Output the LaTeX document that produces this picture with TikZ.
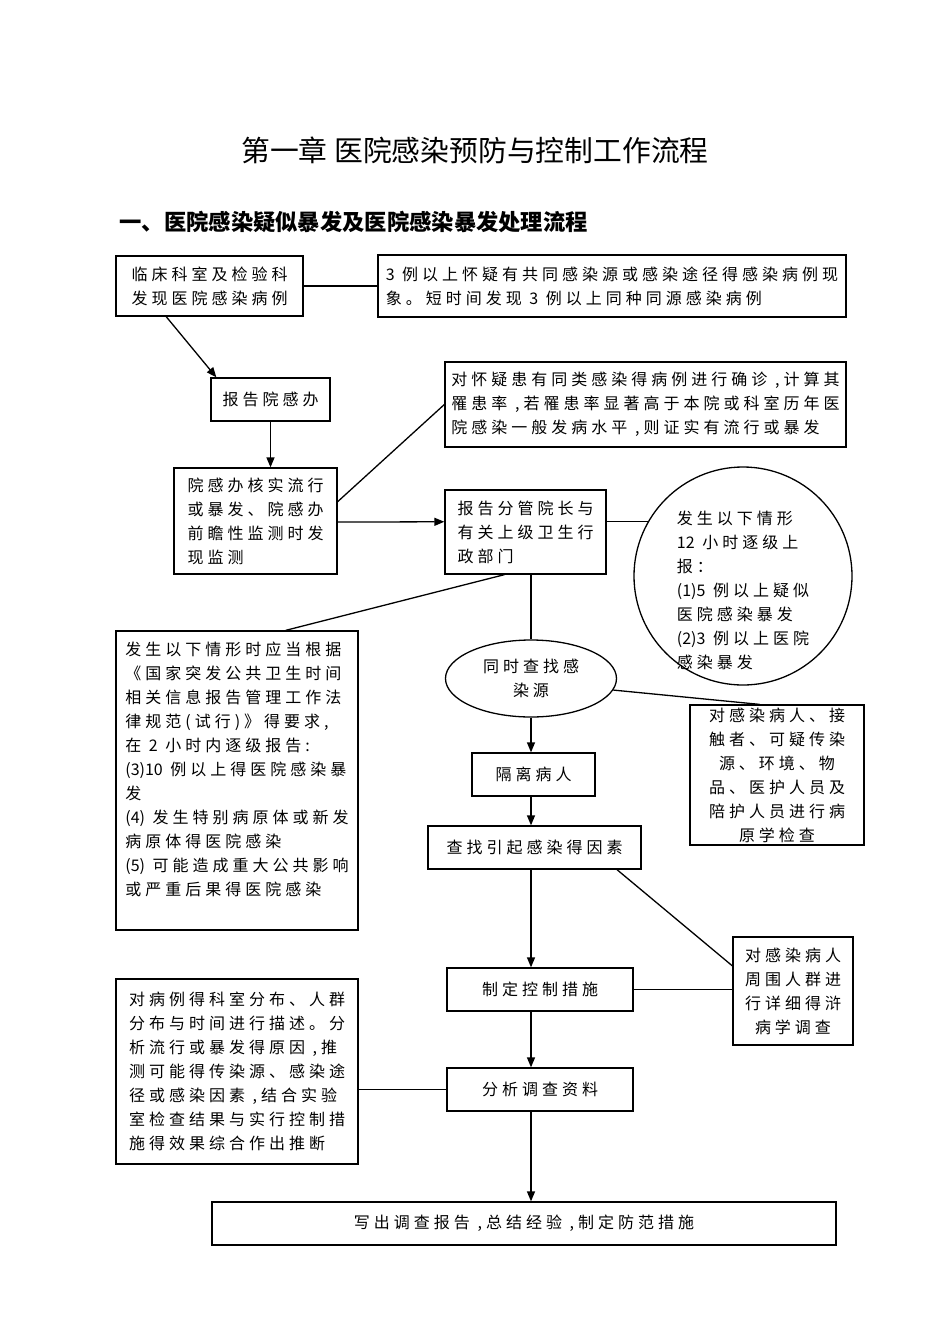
\documentclass[tikz,border=0pt]{standalone}
\usepackage{fontspec}
\usepackage{tikz}
\usetikzlibrary{arrows.meta}
\usetikzlibrary{calc}
\usetikzlibrary{shapes.geometric}
\newfontfamily\cjk{Noto Sans CJK SC}
\newfontfamily\cjkbox{Noto Sans CJK SC}[LetterSpace=25]
\newcommand\nls[1]{{\cjk #1}}
\tikzset{ln/.style = {line width=1.3pt}}
\tikzset{box/.style = {draw, ln, inner sep=0, align=left, font={\cjkbox\fontsize{16}{24}\selectfont}}}
\tikzset{cbox/.style = {box, align=center}}
\tikzset{arr/.style = {ln, -{Triangle[length=10pt,width=8pt]}}}

\begin{document}
\begin{tikzpicture}[x=1pt, y=-1pt]
    \useasboundingbox (0,0) rectangle (950,1344);

    \node [font={\cjk\fontsize{28.8}{32}\selectfont}] (title) at (475,150) {第一章 医院感染预防与控制工作流程};
    \node [anchor=west, font={\cjk\bfseries\fontsize{22.3}{26}\selectfont}] (head) at (116,222) {一、医院感染疑似暴发及医院感染暴发处理流程};

    \node [box, minimum width=187pt, minimum height=60pt] (lc) at (209.5,286) {临床科室及检验科\\发现医院感染病例};
    \node [box, minimum width=468pt, minimum height=62pt] (xx) at (612,286) {\nls{3} 例以上怀疑有共同感染源或感染途径得感染病例现\\象。短时间发现 \nls{3} 例以上同种同源感染病例};
    \node [cbox, minimum width=119pt, minimum height=43pt] (bg) at (270.5,399.5) {报告院感办};
    \node [box, minimum width=163pt, minimum height=106pt] (hs) at (255.5,521) {院感办核实流行\\或暴发、院感办\\前瞻性监测时发\\现监测};
    \node [box, minimum width=401pt, minimum height=85pt] (qz) at (645.5,404.5) {对怀疑患有同类感染得病例进行确诊 ,计算其\\罹患率 ,若罹患率显著高于本院或科室历年医\\院感染一般发病水平 ,则证实有流行或暴发};
    \node [box, minimum width=161pt, minimum height=84pt] (fg) at (525.5,532) {报告分管院长与\\有关上级卫生行\\政部门};

    \node [draw, ln, circle, minimum size=218pt, inner sep=0] (qx) at (743,576) {};
    \node [align=left, inner sep=0, font={\cjkbox\fontsize{16}{24}\selectfont}] (qxt) at (743,590) {发生以下情形\\\nls{12} 小时逐级上\\报：\\\nls{(1)5} 例以上疑似\\医院感染暴发\\\nls{(2)3} 例以上医院\\感染暴发};

    \node [box, minimum width=242pt, minimum height=299pt] (gj) at (237,780.5) {发生以下情形时应当根据\\《国家突发公共卫生时间\\相关信息报告管理工作法\\律规范(试行)》得要求,\\在 \nls{2} 小时内逐级报告:\\\nls{(3)10} 例以上得医院感染暴\\发\\\nls{(4)} 发生特别病原体或新发\\病原体得医院感染\\\nls{(5)} 可能造成重大公共影响\\或严重后果得医院感染\\ };
    \node [draw, ln, ellipse, inner sep=0, minimum width=171pt, minimum height=77pt, align=center, font={\cjkbox\fontsize{16}{24}\selectfont}] (cz) at (531,678.5) {同时查找感\\染源};
    \node [cbox, minimum width=174pt, minimum height=140pt] (jc) at (777,775) {对感染病人、接\\触者、可疑传染\\源、环境、物\\品、医护人员及\\陪护人员进行病\\原学检查};
    \node [cbox, minimum width=123pt, minimum height=43pt] (gl) at (533.5,774.5) {隔离病人};
    \node [cbox, minimum width=213pt, minimum height=43pt] (ys) at (534.5,847.5) {查找引起感染得因素};
    \node [cbox, minimum width=186pt, minimum height=43pt] (kz) at (540,989.5) {制定控制措施};
    \node [cbox, minimum width=120pt, minimum height=108pt] (dc) at (793,991) {对感染病人\\周围人群进\\行详细得浒\\病学调查};
    \node [box, minimum width=242pt, minimum height=185pt] (tj) at (237,1071.5) {对病例得科室分布、人群\\分布与时间进行描述。分\\析流行或暴发得原因 ,推\\测可能得传染源、感染途\\径或感染因素 ,结合实验\\室检查结果与实行控制措\\施得效果综合作出推断};
    \node [cbox, minimum width=186pt, minimum height=43pt] (fx) at (540,1089.5) {分析调查资料};
    \node [cbox, minimum width=624pt, minimum height=43pt] (zj) at (524,1223.5) {写出调查报告 ,总结经验 ,制定防范措施};

    \draw [ln] (lc.east) -- (lc.east -| xx.west);
    \draw [arr] ($(lc.south west)!0.27!(lc.south east)$) -- ($(bg.north west)!0.05!(bg.north east)$);
    \draw [arr] (bg.south) -- (bg.south |- hs.north);
    \draw [ln] ($(hs.north east)!0.32!(hs.south east)$) -- (qz.west);
    \draw [arr] ($(hs.north east)!0.51!(hs.south east)$) -- ($(fg.north west)!0.38!(fg.south west)$);
    \draw [ln] (qx.150 -| fg.east) -- (qx.150);
    \draw [ln] ($(fg.south west)!0.37!(fg.south east)$) -- ($(gj.north west)!0.7!(gj.north east)$);
    \draw [ln] (cz.north |- fg.south) -- (cz.north);
    \draw [ln] (cz.-8) -- ($(jc.north west)!0.4!(jc.north east)$);
    \draw [arr] (cz.south) -- (cz.south |- gl.north);
    \draw [arr] (gl.south -| cz.south) -- (cz.south |- ys.north);
    \draw [arr] (ys.south -| cz.south) -- (cz.south |- kz.north);
    \draw [ln] ($(ys.south west)!0.885!(ys.south east)$) -- ($(dc.north west)!0.27!(dc.south west)$);
    \draw [ln] (kz.east) -- (kz.east -| dc.west);
    \draw [arr] (kz.south -| cz.south) -- (cz.south |- fx.north);
    \draw [ln] (fx.west) -- (fx.west -| tj.east);
    \draw [arr] (fx.south -| cz.south) -- (cz.south |- zj.north);
\end{tikzpicture}
\end{document}
